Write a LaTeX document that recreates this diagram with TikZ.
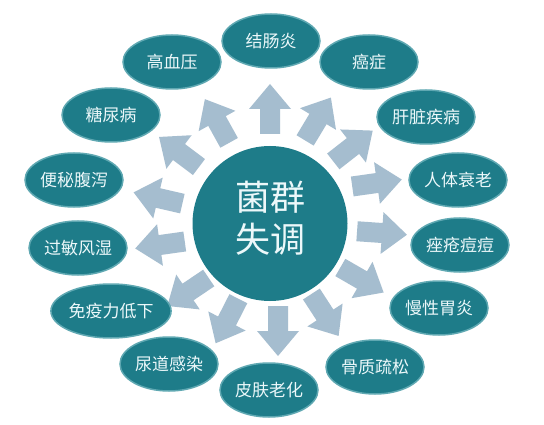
\documentclass[tikz,border=0pt]{standalone}
\usepackage{fontspec}
\newfontfamily\cjk{Noto Sans CJK SC}
\usetikzlibrary{calc,shapes.geometric}
\definecolor{tealfill}{RGB}{30,124,137}
\definecolor{tealedge}{RGB}{95,168,178}
\definecolor{arrowfill}{RGB}{165,189,207}
\definecolor{textcol}{RGB}{236,248,250}
\begin{document}
\begin{tikzpicture}[x=1pt,y=-1pt,
  disease/.style={ellipse, fill=tealfill, draw=tealedge, line width=1.5pt,
    minimum width=98pt, minimum height=54pt, inner sep=0pt, text=textcol,
    font=\cjk\fontsize{17}{17}\selectfont},
  hub/.style={circle, fill=tealfill, minimum size=155pt, inner sep=0pt},
  hubtext/.style={text=textcol, font=\cjk\fontsize{35}{42}\selectfont, align=center, inner sep=0pt},
  blockarrow/.style={fill=arrowfill}]
\fill[white] (0,0) rectangle (544,425);
\useasboundingbox (0,0) rectangle (544,425);
% block arrows: name / head-base x / y / direction (y down)
\foreach \n/\mx/\my/\a in {
  a1/270/109/-90, a2/318/119/-59, a3/353/146/-38, a4/377/183/-8,
  a5/382/233/4, a6/362/280/30, a7/325/315/57, a8/278/331/90,
  a9/227/321/117, a10/188/292/146, a11/160/245/172, a12/158/198/-167,
  a13/179/152/-143, a14/217/121/-119} {
  \coordinate (\n) at (\mx,\my);
  \fill[blockarrow] ($(\n)+(\a+180:25)+(\a+90:10)$) -- ($(\n)+(\a+90:10)$)
    -- ($(\n)+(\a+90:21)$) -- ($(\n)+(\a:25)$) -- ($(\n)+(\a-90:21)$)
    -- ($(\n)+(\a-90:10)$) -- ($(\n)+(\a+180:25)+(\a-90:10)$) -- cycle;
}
\node[hub] (hub) at (270,223.5) {};
\node[hubtext] (hublabel) at (270,218) {菌群\\失调};
\node[disease] (e1) at (271,41) {结肠炎};
\node[disease] (e2) at (369,62) {癌症};
\node[disease] (e3) at (426,117) {肝脏疾病};
\node[disease] (e4) at (458,180) {人体衰老};
\node[disease] (e5) at (460,245) {痤疮痘痘};
\node[disease] (e6) at (439,308) {慢性胃炎};
\node[disease] (e7) at (375,367) {骨质疏松};
\node[disease] (e8) at (269,390) {皮肤老化};
\node[disease] (e9) at (169,364) {尿道感染};
\node[disease] (e10) at (111,311) {免疫力低下};
\node[disease] (e11) at (78,248) {过敏风湿};
\node[disease] (e12) at (74,180) {便秘腹泻};
\node[disease] (e13) at (111,115) {糖尿病};
\node[disease] (e14) at (172,62) {高血压};
\end{tikzpicture}
\end{document}
